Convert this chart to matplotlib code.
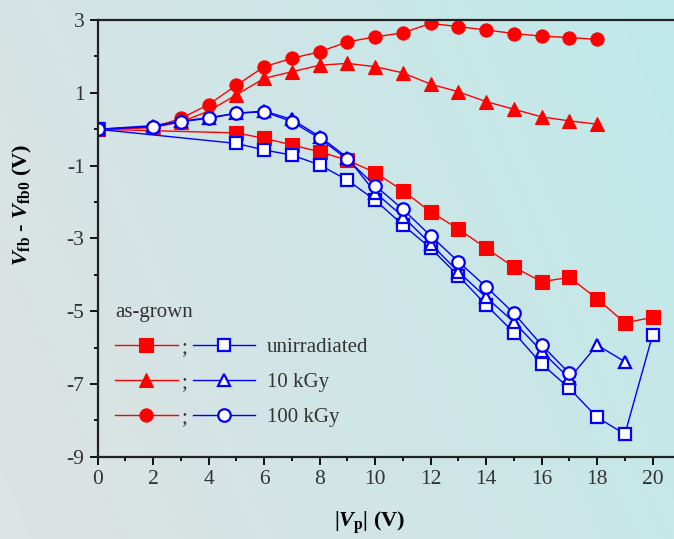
#!/usr/bin/env python3
"""Flat-band voltage shift versus |Vp| for as-grown and irradiated samples."""

import matplotlib

matplotlib.use("Agg")
import matplotlib.pyplot as plt
import numpy as np
from matplotlib.ticker import MultipleLocator

# red = as-grown, blue = irradiated; one array per marker series
x_sq_red = [0, 5, 6, 7, 8, 9, 10, 11, 12, 13, 14, 15, 16, 17, 18, 19, 20]
y_sq_red = [0, -0.10, -0.25, -0.43, -0.62, -0.85, -1.19, -1.69, -2.27, -2.74, -3.27, -3.79, -4.19, -4.07, -4.66, -5.32, -5.17]
x_tri_red = [0, 2, 3, 4, 5, 6, 7, 8, 9, 10, 11, 12, 13, 14, 15, 16, 17, 18]
y_tri_red = [0, 0.05, 0.20, 0.50, 0.95, 1.40, 1.58, 1.76, 1.81, 1.72, 1.55, 1.24, 1.03, 0.76, 0.55, 0.34, 0.23, 0.14]
x_cir_red = [0, 2, 3, 4, 5, 6, 7, 8, 9, 10, 11, 12, 13, 14, 15, 16, 17, 18]
y_cir_red = [0, 0.05, 0.30, 0.68, 1.21, 1.72, 1.95, 2.13, 2.40, 2.54, 2.65, 2.91, 2.82, 2.73, 2.63, 2.56, 2.52, 2.47]

x_sq_blue = [0, 5, 6, 7, 8, 9, 10, 11, 12, 13, 14, 15, 16, 17, 18, 19, 20]
y_sq_blue = [0, -0.39, -0.57, -0.71, -0.98, -1.40, -1.95, -2.63, -3.27, -4.03, -4.83, -5.59, -6.45, -7.12, -7.92, -8.38, -5.65]
x_tri_blue = [0, 2, 3, 4, 5, 6, 7, 8, 9, 10, 11, 12, 13, 14, 15, 16, 17, 18, 19]
y_tri_blue = [0, 0.10, 0.22, 0.32, 0.44, 0.50, 0.27, -0.20, -0.78, -1.74, -2.40, -3.15, -3.92, -4.62, -5.30, -6.10, -6.85, -5.93, -6.39]
x_cir_blue = [0, 2, 3, 4, 5, 6, 7, 8, 9, 10, 11, 12, 13, 14, 15, 16, 17]
y_cir_blue = [0, 0.07, 0.21, 0.30, 0.44, 0.48, 0.21, -0.25, -0.83, -1.55, -2.20, -2.93, -3.64, -4.33, -5.06, -5.93, -6.71]

labels = ["unirradiated", "10 kGy", "100 kGy"]
x_ticks = [0, 2, 4, 6, 8, 10, 12, 14, 16, 18, 20]
y_ticks = [-9, -7, -5, -3, -1, 1, 3]

RED = "#ff0000"
BLUE = "#0000ff"

plt.rcParams["font.family"] = ["Liberation Serif", "DejaVu Serif"]
plt.rcParams["axes.unicode_minus"] = False
plt.rcParams["mathtext.fontset"] = "custom"
plt.rcParams["mathtext.rm"] = "Liberation Serif:bold"
plt.rcParams["mathtext.bf"] = "Liberation Serif:bold"
plt.rcParams["mathtext.it"] = "Liberation Serif:bold:italic"

fig = plt.figure(figsize=(6.74, 5.39), dpi=100)

# soft grey -> cyan backdrop
bg = fig.add_axes([0, 0, 1, 1], zorder=-5)
gx, gy = np.meshgrid(np.linspace(0, 1, 300), np.linspace(0, 1, 240))
t = np.clip(0.75 * gx + 0.25 * gy, 0, 1)[..., None]
left = np.array([222, 226, 226]) / 255
right = np.array([192, 233, 234]) / 255
bg.imshow(left * (1 - t) + right * t, aspect="auto", extent=[0, 1, 0, 1], origin="lower")
bg.axis("off")

ax = fig.add_axes([0.145, 0.1527, 0.855, 0.810])
ax.patch.set_alpha(0)

red_kw = dict(color=RED, lw=1.0, markersize=9.5, markeredgewidth=0.8)
blue_kw = dict(color=BLUE, lw=1.0, markersize=9, markerfacecolor="white", markeredgewidth=1.6)
h_sq_red, = ax.plot(x_sq_red, y_sq_red, marker="s", **red_kw)
h_tri_red, = ax.plot(x_tri_red, y_tri_red, marker="^", **red_kw)
h_cir_red, = ax.plot(x_cir_red, y_cir_red, marker="o", **red_kw)
h_sq_blue, = ax.plot(x_sq_blue, y_sq_blue, marker="s", **blue_kw)
h_tri_blue, = ax.plot(x_tri_blue, y_tri_blue, marker="^", **blue_kw)
h_cir_blue, = ax.plot(x_cir_blue, y_cir_blue, marker="o", **blue_kw)

ax.set_xlim(0, 20.77)
ax.set_ylim(-9, 3)
ax.set_xticks(x_ticks)
ax.set_yticks(y_ticks)
ax.xaxis.set_minor_locator(MultipleLocator(1))
ax.yaxis.set_minor_locator(MultipleLocator(1))
ax.tick_params(which="major", direction="out", length=6, width=1.3, labelsize=15.5, labelcolor="#333333")
ax.tick_params(which="minor", direction="out", length=3, width=1.3)
ax.spines["right"].set_visible(False)
for side in ("left", "top", "bottom"):
    ax.spines[side].set_linewidth(1.6)
    ax.spines[side].set_color("#222222")

ax.set_xlabel(r"|$V_{\mathrm{p}}$| (V)", fontsize=16, fontweight="bold")
ax.set_ylabel(r"$V_{\mathrm{fb}}$ - $V_{\mathrm{fb0}}$ (V)", fontsize=16, fontweight="bold")
ax.xaxis.set_label_coords(0.472, -0.122)
ax.yaxis.set_label_coords(-0.11, 0.576)

leg_kw = dict(frameon=False, fontsize=15, handlelength=3.0, labelspacing=0.74, borderpad=0, borderaxespad=0)
leg_red = ax.legend([h_sq_red, h_tri_red, h_cir_red], [";", ";", ";"], title="as-grown",
                    loc="lower left", bbox_to_anchor=(0.03, 0.068), handletextpad=0.2,
                    title_fontproperties={"size": 15}, alignment="left", **leg_kw)
leg_red.get_title().set_color("#333333")
for txt in leg_red.get_texts():
    txt.set_color("#333333")
ax.add_artist(leg_red)
leg_blue = ax.legend([h_sq_blue, h_tri_blue, h_cir_blue], labels,
                     loc="lower left", bbox_to_anchor=(0.165, 0.068), handletextpad=0.55, **leg_kw)
for txt in leg_blue.get_texts():
    txt.set_color("#333333")

fig.savefig("out.png", dpi=100)
